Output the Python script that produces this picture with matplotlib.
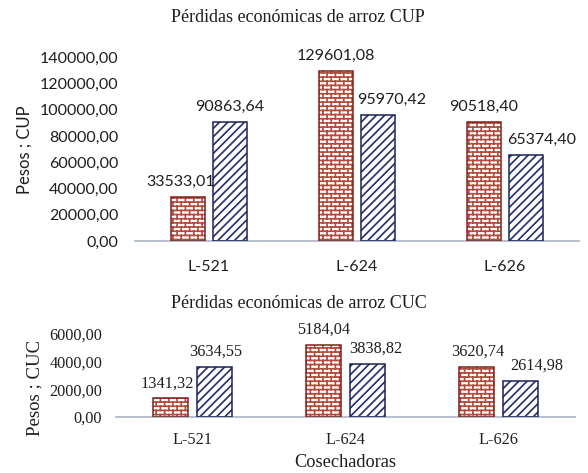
import warnings

import numpy as np
import matplotlib
matplotlib.use('Agg')
import matplotlib.pyplot as plt
import matplotlib.hatch as mhatch
from matplotlib.path import Path
from matplotlib.ticker import FuncFormatter, MultipleLocator

warnings.filterwarnings('ignore')

# data
cosechadoras = ['L-521', 'L-624', 'L-626']
cup_red = [33533.01, 129601.08, 90518.40]
cup_blue = [90863.64, 95970.42, 65374.40]
cuc_red = [1341.32, 5184.04, 3620.74]
cuc_blue = [3634.55, 3838.82, 2614.98]

title_cup = 'Pérdidas económicas de arroz CUP'
title_cuc = 'Pérdidas económicas de arroz CUC'

# label nudges in points (red, blue) per group, as placed in the original
cup_dx = [(-5, 0), (0, 10), (0, 11.5)]
cuc_dx = [(-2, 0.5), (0, 6), (1, 12)]

RED_HATCH = '#b34a3e'
RED_EDGE = '#7d2219'
BLUE_HATCH = '#242d6a'
BLUE_EDGE = '#1b2258'
AXIS_COL = '#aab4c4'
TXT = '#1e1e1e'


class BrickHatch(mhatch.HatchPatternBase):
    """Brick wall hatch, used with the 'b' hatch character."""

    rows = 24
    cols = 12

    def __init__(self, hatch, density):
        self.segs = []
        if 'b' in hatch:
            n_r, n_c = self.rows, self.cols
            for r in range(n_r):
                y = (r + 0.5) / n_r
                self.segs.append(((0.0, y), (1.0, y)))
            for r in range(n_r):
                shift = 0.5 * (r % 2)
                for c in range(n_c):
                    x = (c + 0.25 + shift) / n_c
                    if r == 0:
                        self.segs.append(((x, 0.0), (x, 0.5 / n_r)))
                        self.segs.append(((x, (n_r - 0.5) / n_r), (x, 1.0)))
                    else:
                        self.segs.append(((x, (r - 0.5) / n_r),
                                          (x, (r + 0.5) / n_r)))
        self.num_vertices = len(self.segs) * 2

    def set_vertices_and_codes(self, vertices, codes):
        pts = np.array(self.segs).reshape(-1, 2)
        vertices[:] = pts
        codes[0::2] = Path.MOVETO
        codes[1::2] = Path.LINETO


mhatch._hatch_types.append(BrickHatch)

plt.rcParams['hatch.linewidth'] = 1.2

W, H = 588, 473
fig = plt.figure(figsize=(W / 100, H / 100), dpi=100)


def px_axes(x0, x1, y_top, y_base):
    """Axes from pixel box."""
    return fig.add_axes([x0 / W, 1 - y_base / H, (x1 - x0) / W,
                         (y_base - y_top) / H])


def fmt(v):
    return f'{v:.2f}'.replace('.', ',')


def draw_bars(ax, red, blue, width, off, dx, font, fsize, lab_dy):
    x = np.arange(len(cosechadoras))
    for vals, sgn, hcol, ecol, hatch, k in (
            (red, -1, RED_HATCH, RED_EDGE, 'b', 0),
            (blue, 1, BLUE_HATCH, BLUE_EDGE, '////', 1)):
        pos = x + sgn * off
        ax.bar(pos, vals, width, color='white', edgecolor=hcol,
               hatch=hatch, linewidth=0, zorder=2)
        ax.bar(pos, vals, width, fill=False, edgecolor=ecol,
               linewidth=1.1, zorder=3)
        for i, (p, v) in enumerate(zip(pos, vals)):
            ax.annotate(fmt(v), (p, v), xytext=(dx[i][k], lab_dy),
                        textcoords='offset points', ha='center',
                        va='baseline', fontsize=fsize, family=font,
                        color=TXT, zorder=4)
    ax.set_xlim(-0.5, len(cosechadoras) - 0.5)
    ax.set_xticks(x, cosechadoras)
    for s in ('top', 'right', 'left'):
        ax.spines[s].set_visible(False)
    ax.spines['bottom'].set_color(AXIS_COL)
    ax.spines['bottom'].set_linewidth(1.2)
    ax.yaxis.set_major_formatter(FuncFormatter(lambda v, _: fmt(v)))
    ax.set_facecolor('none')


# top chart (CUP)
ax1 = px_axes(135, 579, 57.4, 241)
draw_bars(ax1, cup_red, cup_blue, 0.23, 0.142, cup_dx, 'Lato', 11.5, 8)
ax1.set_ylim(0, 140000)
ax1.yaxis.set_major_locator(MultipleLocator(20000))
ax1.tick_params(axis='y', length=0, pad=12, labelsize=11.5, labelcolor=TXT)
ax1.tick_params(axis='x', length=0, pad=13.5, labelsize=11.5, labelcolor=TXT)
for lab in ax1.get_xticklabels() + ax1.get_yticklabels():
    lab.set_family('Lato')

# bottom chart (CUC)
ax2 = px_axes(116, 575, 333.7, 417)
draw_bars(ax2, cuc_red, cuc_blue, 0.229, 0.144, cuc_dx,
          'Liberation Serif', 11.7, 8)
ax2.set_ylim(0, 6000)
ax2.yaxis.set_major_locator(MultipleLocator(2000))
ax2.tick_params(axis='y', length=0, pad=10, labelsize=11.7, labelcolor=TXT)
ax2.tick_params(axis='x', length=0, pad=10.5, labelsize=11.7, labelcolor=TXT)
for lab in ax2.get_xticklabels() + ax2.get_yticklabels():
    lab.set_family('Liberation Serif')

# titles and axis labels
fig.text(298 / W, 1 - 17 / H, title_cup, ha='center', va='center',
         family='Liberation Serif', fontsize=13, color=TXT)
fig.text(298.5 / W, 1 - 303 / H, title_cuc, ha='center', va='center',
         family='Liberation Serif', fontsize=13, color=TXT)
fig.text(24.5 / W, 1 - 150 / H, 'Pesos ; CUP', rotation=90, ha='center',
         va='center', family='Lato', fontsize=12, color=TXT)
fig.text(35 / W, 1 - 388 / H, 'Pesos ; CUC', rotation=90, ha='center',
         va='center', family='Liberation Serif', fontsize=13.5, color=TXT)
fig.text(345 / W, 1 - 462 / H, 'Cosechadoras', ha='center', va='center',
         family='Liberation Serif', fontsize=13.2, color=TXT)

fig.savefig('out.png', dpi=100, facecolor='white')
